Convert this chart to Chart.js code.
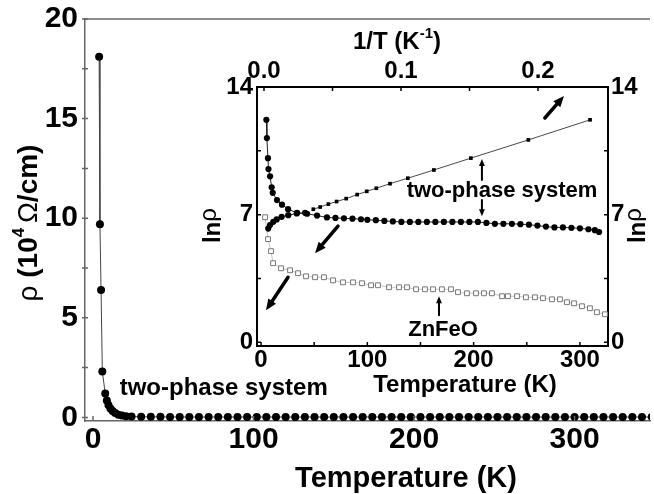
<!DOCTYPE html>
<html>
<head>
<meta charset="utf-8">
<script src="https://cdn.jsdelivr.net/npm/chart.js@4.4.1/dist/chart.umd.min.js"></script>
<style>
  html, body { margin: 0; padding: 0; background: #fff; }
  #wrap { position: relative; width: 654px; height: 494px; overflow: hidden; }
  #mainChart { position: absolute; left: 0; top: 0; }
  #insetChart { position: absolute; left: 195px; top: 22px; }
</style>
</head>
<body>
<div id="wrap">
  <canvas id="mainChart" width="654" height="494"></canvas>
  <canvas id="insetChart" width="459" height="380"></canvas>
</div>
<script>
// main panel: rho (10^4 Ohm/cm) vs T (K), two-phase system
const mainTemp = [3.8, 4.3, 5.0, 5.8, 7.6, 8.6, 9.6, 10.8, 12.2, 13.8, 15.8, 18.0, 20.5, 24,
  30, 36, 42, 48, 54, 60, 66, 72, 78, 84, 90, 96, 102, 108, 114, 120, 126, 132, 138, 144,
  150, 156, 162, 168, 174, 180, 186, 192, 198, 204, 210, 216, 222, 228, 234, 240, 246, 252,
  258, 264, 270, 276, 282, 288, 294, 300, 306, 312, 318, 324, 330, 336, 342, 348];
const mainRho = [18.1, 9.7, 6.4, 2.3, 1.2, 0.85, 0.62, 0.45, 0.32, 0.22, 0.14, 0.09, 0.06, 0.04,
  0.03, 0.03, 0.03, 0.02, 0.02, 0.02, 0.02, 0.02, 0.02, 0.02, 0.02, 0.02, 0.02, 0.02, 0.02, 0.02,
  0.02, 0.02, 0.02, 0.02, 0.02, 0.02, 0.02, 0.02, 0.02, 0.02, 0.02, 0.02, 0.02, 0.02, 0.02, 0.02,
  0.02, 0.02, 0.02, 0.02, 0.02, 0.02, 0.02, 0.02, 0.02, 0.02, 0.02, 0.02, 0.02, 0.02, 0.02, 0.02,
  0.02, 0.02, 0.02, 0.02, 0.02, 0.02];
const mainXTicks = [0, 100, 200, 300];
const mainYTicks = [0, 5, 10, 15, 20];
const mainYMinor = [2.5, 7.5, 12.5, 17.5];

// inset: ln rho vs T (bottom axis) and vs 1/T (top axis)
const insetTemp = [5.0, 5.5, 6.5, 7.0, 8.5, 10, 11, 15, 19.7, 25.4, 33.9, 43.3, 52.7, 62, 70, 78,
  86, 94, 100, 108, 116, 124, 132, 140, 148, 156, 164, 172, 180, 188, 196, 204, 212, 220, 228,
  236, 244, 252, 260, 268, 276, 284, 292, 300, 308, 314, 318];
const insetLnRho = [12.2, 11.2, 10.1, 9.5, 9.1, 8.5, 8.2, 7.8, 7.55, 7.3, 7.1, 7.05, 6.95, 6.85,
  6.82, 6.8, 6.78, 6.75, 6.72, 6.7, 6.66, 6.63, 6.6, 6.6, 6.6, 6.6, 6.6, 6.6, 6.6, 6.6, 6.6, 6.6,
  6.55, 6.5, 6.5, 6.5, 6.48, 6.45, 6.4, 6.35, 6.3, 6.3, 6.28, 6.25, 6.2, 6.15, 6.05];
const insetInvTLow = [0.0031, 0.0044, 0.0068, 0.0093, 0.0129, 0.0177, 0.0239, 0.030];
const insetLnRhoLow = [6.24, 6.43, 6.61, 6.74, 6.88, 6.97, 7.07, 7.1];
const insetInvT = [0.036, 0.041, 0.047, 0.053, 0.060, 0.068, 0.075, 0.082, 0.092, 0.105, 0.124,
  0.151, 0.193, 0.238];
const insetLnRhoInv = [7.3, 7.42, 7.58, 7.72, 7.88, 8.1, 8.28, 8.45, 8.7, 9.0, 9.45, 10.1, 11.1, 12.2];
const znfeoTemp = [3.8, 6.6, 9.4, 11.3, 18.8, 27.3, 34.8, 42.3, 50.8, 59.2, 67.7, 77.1, 86.5, 95,
  103.5, 110, 120.4, 129.8, 137.3, 145.8, 154.2, 161.8, 170.2, 178.7, 185.3, 193.7, 202.2, 209.7,
  217.2, 226.7, 232.3, 240.8, 249.2, 257.7, 265.2, 273.7, 281.2, 287.8, 294.4, 301.9, 309.4, 316, 323.5];
const znfeoLnRho = [6.86, 5.66, 5.0, 4.34, 4.06, 3.95, 3.79, 3.62, 3.57, 3.57, 3.4, 3.29, 3.29,
  3.24, 3.13, 3.13, 3.02, 3.02, 3.02, 2.91, 2.91, 2.91, 2.91, 2.91, 2.75, 2.69, 2.69, 2.69, 2.69,
  2.53, 2.53, 2.53, 2.47, 2.47, 2.42, 2.36, 2.36, 2.2, 2.14, 1.98, 1.87, 1.65, 1.54];
const insetTempTicks = [0, 100, 200, 300];
const insetTempMinor = [50, 150, 250];
const insetInvTTicks = [0, 0.1, 0.2];
const insetInvTMinor = [0.05, 0.15];
const insetLnTicks = [0, 7, 14];
const insetLnMinor = [3.5, 10.5];

// annotations in inset data coordinates (T, ln rho)
const insetArrows = [
  { from: [267, 12.3], to: [285, 13.51], w: 3.5, head: 11 },
  { from: [72.4, 6.37], to: [50.8, 4.89], w: 3.5, head: 11 },
  { from: [25.4, 3.57], to: [4.7, 1.76], w: 3.5, head: 11 },
  { from: [207.8, 8.9], to: [207.8, 10.05], w: 2, head: 7 },
  { from: [207.8, 7.8], to: [207.8, 6.92], w: 2, head: 7 },
  { from: [167.4, 1.48], to: [167.4, 2.53], w: 2, head: 7 }
];
const insetLabels = [
  { text: 'two-phase system', x: 226.7, y: 8.32 },
  { text: 'ZnFeO', x: 171.2, y: 0.69 }
];

const FONT = '"Liberation Sans", Arial, Helvetica, sans-serif';
Chart.defaults.font.family = FONT;
Chart.defaults.color = '#000';

function toPoints(xs, ys) {
  return xs.map((x, i) => ({ x: x, y: ys[i] }));
}

function fixedTicks(values) {
  return scale => { scale.ticks = values.map(v => ({ value: v })); };
}

function fixSize(prop, size) {
  return scale => {
    scale[prop] = size;
    scale.paddingLeft = 0; scale.paddingRight = 0;
    scale.paddingTop = 0; scale.paddingBottom = 0;
  };
}

function drawTicks(chart, id, values, inLen, outLen, color, width) {
  const s = chart.scales[id];
  const a = chart.chartArea;
  const ctx = chart.ctx;
  ctx.save();
  ctx.strokeStyle = color;
  ctx.lineWidth = width;
  ctx.beginPath();
  values.forEach(v => {
    const p = s.getPixelForValue(v);
    if (s.position === 'bottom') { ctx.moveTo(p, a.bottom + outLen); ctx.lineTo(p, a.bottom - inLen); }
    else if (s.position === 'top') { ctx.moveTo(p, a.top - outLen); ctx.lineTo(p, a.top + inLen); }
    else if (s.position === 'left') { ctx.moveTo(a.left - outLen, p); ctx.lineTo(a.left + inLen, p); }
    else { ctx.moveTo(a.right + outLen, p); ctx.lineTo(a.right - inLen, p); }
  });
  ctx.stroke();
  ctx.restore();
}

function drawRich(ctx, parts, cx, cy, rotate) {
  ctx.save();
  ctx.translate(cx, cy);
  if (rotate) ctx.rotate(-Math.PI / 2);
  ctx.textBaseline = 'middle';
  ctx.textAlign = 'left';
  ctx.fillStyle = '#000';
  let total = 0;
  parts.forEach(p => { ctx.font = p.font; p.w = ctx.measureText(p.text).width; total += p.w; });
  let x = -total / 2;
  parts.forEach(p => { ctx.font = p.font; ctx.fillText(p.text, x, p.dy || 0); x += p.w; });
  ctx.restore();
}

function drawArrow(ctx, x1, y1, x2, y2, w, head) {
  const ang = Math.atan2(y2 - y1, x2 - x1);
  const c = Math.cos(ang), s = Math.sin(ang);
  ctx.lineWidth = w;
  ctx.beginPath();
  ctx.moveTo(x1, y1);
  ctx.lineTo(x2 - c * head * 0.8, y2 - s * head * 0.8);
  ctx.stroke();
  ctx.beginPath();
  ctx.moveTo(x2, y2);
  ctx.lineTo(x2 - head * c + head * 0.42 * s, y2 - head * s - head * 0.42 * c);
  ctx.lineTo(x2 - head * c - head * 0.42 * s, y2 - head * s + head * 0.42 * c);
  ctx.closePath();
  ctx.fill();
}

const mainDecor = {
  id: 'mainDecor',
  afterDraw(chart) {
    const ctx = chart.ctx;
    const a = chart.chartArea;
    const { x, y } = chart.scales;
    ctx.save();
    ctx.strokeStyle = '#666';
    ctx.lineWidth = 1.5;
    ctx.beginPath();
    ctx.moveTo(a.left, a.top);
    ctx.lineTo(a.right, a.top);
    ctx.stroke();
    ctx.restore();
    drawTicks(chart, 'x', mainXTicks, 5, 0, '#666', 1.5);
    drawTicks(chart, 'y', mainYTicks.concat(mainYMinor), 3, 3, '#666', 1.5);

    drawRich(ctx, [
      { text: 'ρ ', font: '28px ' + FONT },
      { text: '(10', font: 'bold 28px ' + FONT },
      { text: '4 ', font: 'bold 17px ' + FONT, dy: -10 },
      { text: 'Ω', font: '28px ' + FONT },
      { text: '/cm)', font: 'bold 28px ' + FONT }
    ], 29, 223, true);

    ctx.save();
    ctx.fillStyle = '#000';
    ctx.font = 'bold 29px ' + FONT;
    ctx.textAlign = 'center';
    ctx.textBaseline = 'alphabetic';
    ctx.fillText('Temperature (K)', 406, 487);
    ctx.font = 'bold 24px ' + FONT;
    ctx.textAlign = 'left';
    ctx.textBaseline = 'middle';
    ctx.fillText('two-phase system', x.getPixelForValue(16.6), y.getPixelForValue(1.48));
    ctx.restore();
  }
};

const insetDecor = {
  id: 'insetDecor',
  afterDraw(chart) {
    const ctx = chart.ctx;
    const a = chart.chartArea;
    const { xi, yi } = chart.scales;
    drawTicks(chart, 'xi', insetTempTicks.concat(insetTempMinor), 4, 0, '#000', 1.5);
    drawTicks(chart, 'xt', insetInvTTicks.concat(insetInvTMinor), 4, 0, '#000', 1.5);
    drawTicks(chart, 'yi', insetLnTicks.concat(insetLnMinor), 4, 0, '#000', 1.5);
    drawTicks(chart, 'yr', insetLnTicks.concat(insetLnMinor), 4, 0, '#000', 1.5);

    ctx.save();
    ctx.fillStyle = '#000';
    ctx.strokeStyle = '#000';
    ctx.lineCap = 'round';
    insetArrows.forEach(ar => {
      drawArrow(ctx, xi.getPixelForValue(ar.from[0]), yi.getPixelForValue(ar.from[1]),
        xi.getPixelForValue(ar.to[0]), yi.getPixelForValue(ar.to[1]), ar.w, ar.head);
    });
    ctx.font = 'bold 22px ' + FONT;
    ctx.textAlign = 'center';
    ctx.textBaseline = 'middle';
    insetLabels.forEach(l => {
      ctx.fillText(l.text, xi.getPixelForValue(l.x), yi.getPixelForValue(l.y));
    });
    ctx.font = 'bold 24px ' + FONT;
    ctx.textBaseline = 'alphabetic';
    ctx.fillText('Temperature (K)', a.left + 208, a.bottom + 46);
    ctx.restore();

    drawRich(ctx, [
      { text: '1/T (K', font: 'bold 24px ' + FONT },
      { text: '-1', font: 'bold 15px ' + FONT, dy: -8 },
      { text: ')', font: 'bold 24px ' + FONT }
    ], a.left + 140, a.top - 45, false);

    const lnParts = () => [
      { text: 'ln', font: 'bold 24px ' + FONT },
      { text: 'ρ', font: '24px ' + FONT, dy: -4 }
    ];
    const ly = yi.getPixelForValue(6.4);
    drawRich(ctx, lnParts(), a.left - 44, ly, true);
    drawRich(ctx, lnParts(), a.right + 30, ly, true);
  }
};

new Chart(document.getElementById('mainChart'), {
  type: 'scatter',
  data: {
    datasets: [{
      data: toPoints(mainTemp, mainRho),
      showLine: true,
      borderColor: '#444',
      borderWidth: 1,
      pointRadius: 4,
      pointBackgroundColor: '#000',
      pointBorderWidth: 0
    }]
  },
  options: {
    responsive: false,
    animation: false,
    devicePixelRatio: 1,
    events: [],
    layout: { padding: { top: 19, left: 0, right: 0, bottom: 0 } },
    plugins: { legend: { display: false }, tooltip: { enabled: false } },
    scales: {
      x: {
        type: 'linear', min: -5, max: 347,
        grid: { display: false, drawTicks: false },
        border: { display: true, color: '#666', width: 1.5 },
        afterBuildTicks: fixedTicks(mainXTicks),
        afterFit: fixSize('height', 73),
        ticks: { font: { size: 30, weight: 'bold' }, padding: 1, autoSkip: false, maxRotation: 0 }
      },
      y: {
        type: 'linear', min: -0.18, max: 20,
        grid: { display: false, drawTicks: false },
        border: { display: true, color: '#666', width: 1.5 },
        afterBuildTicks: fixedTicks(mainYTicks),
        afterFit: fixSize('width', 85),
        ticks: { font: { size: 30, weight: 'bold' }, padding: 7, autoSkip: false }
      }
    }
  },
  plugins: [mainDecor]
});

const insetBorder = { display: true, color: '#000', width: 2 };
const insetTickFont = { size: 24, weight: 'bold' };

new Chart(document.getElementById('insetChart'), {
  type: 'scatter',
  data: {
    datasets: [
      {
        data: toPoints(insetTemp, insetLnRho),
        xAxisID: 'xi', yAxisID: 'yi',
        showLine: true, borderColor: '#222', borderWidth: 1,
        pointRadius: 3.1, pointBackgroundColor: '#000', pointBorderWidth: 0
      },
      {
        data: toPoints(insetInvTLow, insetLnRhoLow),
        xAxisID: 'xt', yAxisID: 'yi',
        showLine: true, borderColor: '#222', borderWidth: 1,
        pointRadius: 3.1, pointBackgroundColor: '#000', pointBorderWidth: 0
      },
      {
        data: toPoints(insetInvT, insetLnRhoInv),
        xAxisID: 'xt', yAxisID: 'yi',
        showLine: true, borderColor: '#333', borderWidth: 0.9,
        pointStyle: 'rect', pointRadius: 2.6, pointBackgroundColor: '#000', pointBorderWidth: 0
      },
      {
        data: toPoints(znfeoTemp, znfeoLnRho),
        xAxisID: 'xi', yAxisID: 'yi',
        showLine: true, borderColor: '#aaa', borderWidth: 0.7,
        pointStyle: 'rect', pointRadius: 3.4, pointBackgroundColor: '#fff',
        pointBorderColor: '#777', pointBorderWidth: 1
      }
    ]
  },
  options: {
    responsive: false,
    animation: false,
    devicePixelRatio: 1,
    events: [],
    layout: { padding: 0 },
    plugins: { legend: { display: false }, tooltip: { enabled: false } },
    scales: {
      xi: {
        type: 'linear', position: 'bottom', min: -3.8, max: 326.4,
        grid: { display: false, drawTicks: false }, border: insetBorder,
        afterBuildTicks: fixedTicks(insetTempTicks),
        afterFit: fixSize('height', 56),
        ticks: { font: insetTickFont, padding: 0, autoSkip: false, maxRotation: 0 }
      },
      xt: {
        type: 'linear', position: 'top', min: -0.0051, max: 0.2511,
        grid: { display: false, drawTicks: false }, border: insetBorder,
        afterBuildTicks: fixedTicks(insetInvTTicks),
        afterFit: fixSize('height', 65),
        ticks: { font: insetTickFont, padding: 1, autoSkip: false, maxRotation: 0,
          callback: v => v.toFixed(1) }
      },
      yi: {
        type: 'linear', position: 'left', min: -0.2, max: 14,
        grid: { display: false, drawTicks: false }, border: insetBorder,
        afterBuildTicks: fixedTicks(insetLnTicks),
        afterFit: fixSize('width', 62),
        ticks: { font: insetTickFont, padding: 4, autoSkip: false }
      },
      yr: {
        type: 'linear', position: 'right', min: -0.2, max: 14,
        grid: { display: false, drawTicks: false }, border: insetBorder,
        afterBuildTicks: fixedTicks(insetLnTicks),
        afterFit: fixSize('width', 46),
        ticks: { font: insetTickFont, padding: 3, autoSkip: false }
      }
    }
  },
  plugins: [insetDecor]
});
</script>
</body>
</html>
